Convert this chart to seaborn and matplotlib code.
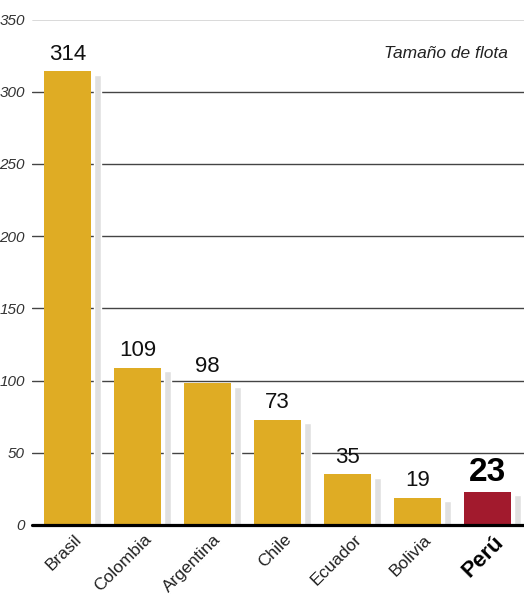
import numpy as np
import pandas as pd
import matplotlib
matplotlib.use('Agg')
import matplotlib.pyplot as plt
import matplotlib.transforms as mtransforms
import seaborn as sns

paises = ['Brasil', 'Colombia', 'Argentina', 'Chile', 'Ecuador', 'Bolivia', 'Perú']
flota = [314, 109, 98, 73, 35, 19, 23]
y_ticks = [0, 50, 100, 150, 200, 250, 300, 350]
titulo = 'Tamaño de flota'

gold = '#dfac24'
peru_red = '#a21a2d'
shadow = '#e0e0e0'

sns.set_style('white')
plt.rcParams['font.family'] = ['Liberation Sans', 'DejaVu Sans']

df = pd.DataFrame({'pais': paises, 'flota': flota})
colores = {p: (peru_red if p == 'Perú' else gold) for p in paises}

fig = plt.figure(figsize=(5.24, 5.96), dpi=100)
ax = fig.add_axes([32/524, 71/596, 492/524, 505.5/596])

sns.barplot(data=df, x='pais', y='flota', hue='pais', palette=colores,
            legend=False, width=0.67, saturation=1, edgecolor='none', ax=ax, zorder=3)

# narrow grey shadow bar to the right of each bar, nudged down a few px
drop = mtransforms.ScaledTranslation(0, -3.5/100, fig.dpi_scale_trans)
ax.bar(np.arange(len(paises)) + 0.43, flota, width=0.095, color=shadow,
       transform=ax.transData + drop, zorder=2)

ax.set_xlim(-0.507, 6.52)
ax.set_ylim(0, 350)
ax.set_yticks(y_ticks)
ax.tick_params(axis='both', length=0)
ax.tick_params(axis='y', pad=5)
ax.tick_params(axis='x', pad=5)
ax.set_xlabel('')
ax.set_ylabel('')
for lbl in ax.get_yticklabels():
    lbl.set_fontstyle('italic')
    lbl.set_fontsize(11)
    lbl.set_color('#333333')

ax.yaxis.grid(True, color='#444444', linewidth=1.0)
ax.xaxis.grid(False)
ax.set_axisbelow(True)
for s in ax.spines.values():
    s.set_visible(False)
ax.axhline(0, color='black', linewidth=2.3, zorder=5, clip_on=False)

ax.set_xticks(range(len(paises)))
ax.set_xticklabels(paises, rotation=45, ha='right', va='top', rotation_mode='anchor',
                   fontsize=12.5, color='#222222')
shift = mtransforms.ScaledTranslation(6/100, 0, fig.dpi_scale_trans)
for lbl in ax.get_xticklabels():
    lbl.set_transform(lbl.get_transform() + shift)
    if lbl.get_text() == 'Perú':
        lbl.set_fontweight('bold')
        lbl.set_fontsize(16)
        lbl.set_color('black')

for i, v in enumerate(flota):
    if paises[i] == 'Perú':
        ax.annotate(str(v), (i, v), xytext=(0, 3), textcoords='offset points',
                    ha='center', va='bottom', fontsize=24, fontweight='bold', color='black')
    else:
        ax.annotate(str(v), (i, v), xytext=(0, 4.5), textcoords='offset points',
                    ha='center', va='bottom', fontsize=16, color='#111111')

fig.text(508/524, 1 - 54/596, titulo, ha='right', va='center', style='italic',
         fontsize=12.5, color='#222222')

fig.savefig('out.png', dpi=100)
